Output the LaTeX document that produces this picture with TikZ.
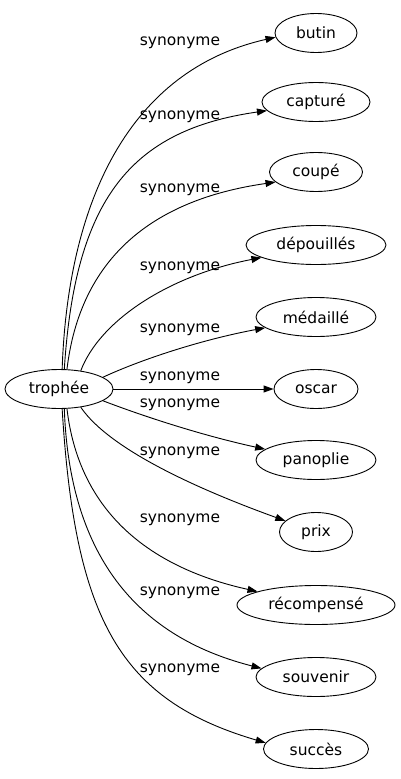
\documentclass[tikz,border=0pt]{standalone}
\usepackage{fontspec}
\setmainfont{DejaVu Sans}
\usetikzlibrary{shapes.geometric,arrows.meta}
\begin{document}
\begin{tikzpicture}[x=1pt,y=-1pt,
  word/.style={ellipse,draw,line width=0.9pt,minimum height=39pt,inner sep=0pt,font=\fontsize{15.5}{18}\selectfont},
  rel/.style={font=\fontsize{15.5}{18}\selectfont,inner sep=0pt},
  link/.style={line width=0.9pt,-{Triangle[length=10pt,width=7pt]}}]
\useasboundingbox (0,0) rectangle (400,779);
\node[word,minimum width=108pt] (t) at (59,389) {trophée};
\node[word,minimum width=82pt] (butin) at (316,33) {butin};
\node[word,minimum width=108pt] (capture) at (316,102) {capturé};
\node[word,minimum width=93pt] (coupe) at (316,172) {coupé};
\node[word,minimum width=140pt] (depouilles) at (316,245) {dépouillés};
\node[word,minimum width=120pt] (medaille) at (316,317) {médaillé};
\node[word,minimum width=84pt] (oscar) at (316,389) {oscar};
\node[word,minimum width=120pt] (panoplie) at (316,460) {panoplie};
\node[word,minimum width=73pt] (prix) at (316,532) {prix};
\node[word,minimum width=158pt] (recompense) at (316,605) {récompensé};
\node[word,minimum width=120pt] (souvenir) at (316,677) {souvenir};
\node[word,minimum width=105pt] (succes) at (316,749) {succès};

\draw[link] (t.81) .. controls (68,200) and (130,70) .. (butin.186);
\draw[link] (t.75) .. controls (75,200) and (130,130) .. (capture.190);
\draw[link] (t.68) .. controls (80,260) and (150,200) .. (coupe.194);
\draw[link] (t.40) .. controls (100,320) and (170,275) .. (depouilles.193);
\draw[link] (t.15) .. controls (140,360) and (200,340) .. (medaille.192);
\draw[link] (t.east) -- (oscar.west);
\draw[link] (t.345) .. controls (140,415) and (200,435) .. (panoplie.168);
\draw[link] (t.320) .. controls (110,450) and (200,490) .. (prix.160);
\draw[link] (t.292) .. controls (80,520) and (160,570) .. (recompense.167);
\draw[link] (t.285) .. controls (70,570) and (150,640) .. (souvenir.171);
\draw[link] (t.279) .. controls (75,620) and (120,700) .. (succes.173);

\node[rel] (l1) at (180,43) {synonyme};
\node[rel] (l2) at (180,117) {synonyme};
\node[rel] (l3) at (180,190) {synonyme};
\node[rel] (l4) at (180,268) {synonyme};
\node[rel] (l5) at (180,330) {synonyme};
\node[rel] (l6) at (180,378) {synonyme};
\node[rel] (l7) at (180,405) {synonyme};
\node[rel] (l8) at (180,453) {synonyme};
\node[rel] (l9) at (180,520) {synonyme};
\node[rel] (l10) at (180,593) {synonyme};
\node[rel] (l11) at (180,670) {synonyme};
\end{tikzpicture}
\end{document}
